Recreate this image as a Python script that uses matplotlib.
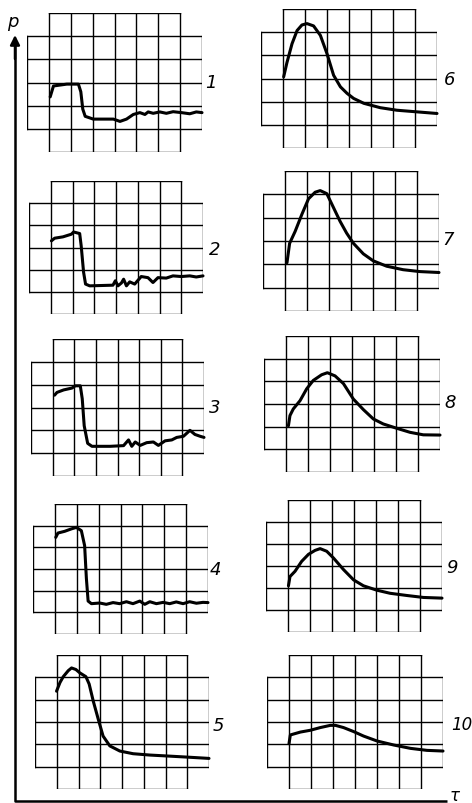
import numpy as np
import matplotlib
matplotlib.use("Agg")
import matplotlib.pyplot as plt

# traces in graticule units (x: 0..8 divisions, y: 0..6 divisions)
x1 = [1.06, 1.21, 1.82, 2.35, 2.46, 2.55, 2.66, 3.03, 3.95, 4.25, 4.55, 4.86, 5.16, 5.39, 5.54, 5.77, 6.07, 6.37, 6.68, 7.06, 7.44, 7.74, 8.0]
y1 = [2.38, 2.85, 2.93, 2.93, 2.6, 1.85, 1.54, 1.42, 1.42, 1.32, 1.42, 1.62, 1.7, 1.62, 1.73, 1.67, 1.73, 1.67, 1.74, 1.7, 1.65, 1.73, 1.7]

x2 = [1.03, 1.18, 1.56, 1.95, 2.05, 2.33, 2.4, 2.51, 2.6, 2.79, 3.86, 3.97, 4.09, 4.25, 4.35, 4.48, 4.63, 4.86, 5.16, 5.47, 5.7, 5.93, 6.31, 6.62, 7.0, 7.39, 7.69, 8.0]
y2 = [3.3, 3.42, 3.48, 3.6, 3.7, 3.63, 3.07, 1.88, 1.35, 1.27, 1.3, 1.5, 1.27, 1.4, 1.57, 1.27, 1.45, 1.35, 1.69, 1.64, 1.42, 1.64, 1.62, 1.72, 1.69, 1.72, 1.67, 1.72]

x3 = [1.09, 1.2, 1.51, 1.89, 2.05, 2.28, 2.37, 2.46, 2.62, 2.82, 3.66, 4.28, 4.51, 4.66, 4.82, 5.05, 5.35, 5.66, 5.89, 6.2, 6.51, 6.74, 7.05, 7.35, 7.58, 7.82, 8.0]
y3 = [3.54, 3.66, 3.77, 3.85, 3.95, 3.95, 3.38, 2.2, 1.43, 1.3, 1.3, 1.33, 1.58, 1.3, 1.49, 1.34, 1.46, 1.49, 1.34, 1.54, 1.58, 1.69, 1.74, 2.0, 1.82, 1.74, 1.69]

x4 = [1.04, 1.14, 1.45, 1.75, 1.98, 2.21, 2.36, 2.44, 2.52, 2.67, 3.05, 3.35, 3.66, 3.96, 4.27, 4.57, 4.88, 5.11, 5.34, 5.64, 5.95, 6.25, 6.55, 6.86, 7.16, 7.47, 7.77, 8.0]
y4 = [4.46, 4.66, 4.74, 4.85, 4.92, 4.77, 4.08, 2.57, 1.52, 1.4, 1.43, 1.37, 1.45, 1.4, 1.49, 1.4, 1.52, 1.37, 1.49, 1.4, 1.46, 1.4, 1.48, 1.4, 1.49, 1.42, 1.46, 1.45]

x5 = [0.99, 1.15, 1.3, 1.53, 1.68, 1.88, 2.06, 2.34, 2.49, 2.68, 2.91, 3.13, 3.44, 3.9, 4.51, 5.28, 6.04, 6.96, 8.0]
y5 = [4.38, 4.77, 5.03, 5.3, 5.42, 5.35, 5.2, 5.03, 4.7, 3.93, 3.12, 2.37, 1.93, 1.7, 1.58, 1.52, 1.48, 1.43, 1.37]

x6 = [1.03, 1.18, 1.41, 1.64, 1.86, 2.09, 2.39, 2.7, 3.0, 3.3, 3.61, 3.91, 4.21, 4.67, 5.42, 6.18, 7.09, 8.0]
y6 = [3.07, 3.69, 4.5, 5.07, 5.31, 5.37, 5.27, 4.86, 4.07, 3.14, 2.64, 2.36, 2.14, 1.93, 1.74, 1.63, 1.56, 1.49]

x7 = [1.09, 1.21, 1.46, 1.77, 2.07, 2.37, 2.6, 2.9, 3.2, 3.5, 3.8, 4.11, 4.56, 5.01, 5.62, 6.37, 7.12, 8.0]
y7 = [2.07, 2.9, 3.41, 4.15, 4.81, 5.09, 5.16, 5.03, 4.44, 3.85, 3.34, 2.9, 2.45, 2.15, 1.92, 1.77, 1.69, 1.65]

x8 = [1.11, 1.18, 1.33, 1.64, 1.94, 2.24, 2.62, 2.88, 3.23, 3.61, 4.06, 4.52, 4.97, 5.42, 6.03, 6.64, 7.24, 8.0]
y8 = [2.04, 2.49, 2.78, 3.15, 3.67, 4.04, 4.29, 4.38, 4.24, 3.9, 3.22, 2.75, 2.34, 2.12, 1.93, 1.75, 1.64, 1.63]

x9 = [1.02, 1.09, 1.32, 1.62, 1.93, 2.23, 2.46, 2.76, 3.07, 3.52, 3.98, 4.43, 5.04, 5.64, 6.4, 7.16, 8.0]
y9 = [2.1, 2.52, 2.76, 3.21, 3.53, 3.71, 3.79, 3.67, 3.36, 2.84, 2.37, 2.1, 1.9, 1.76, 1.66, 1.57, 1.54]

x10 = [1.0, 1.06, 1.52, 1.97, 2.42, 2.88, 3.11, 3.48, 3.94, 4.39, 5.0, 5.76, 6.52, 7.27, 8.0]
y10 = [2.03, 2.42, 2.55, 2.63, 2.75, 2.85, 2.85, 2.75, 2.57, 2.37, 2.15, 1.97, 1.82, 1.73, 1.7]

labels = ["1", "2", "3", "4", "5", "6", "7", "8", "9", "10"]
traces = [(x1, y1), (x2, y2), (x3, y3), (x4, y4), (x5, y5),
          (x6, y6), (x7, y7), (x8, y8), (x9, y9), (x10, y10)]

W, H = 472, 804
# panel boxes in pixels: left, right, top, bottom
boxes = [(27, 202, 14, 153), (29, 203, 182, 315), (31, 204, 340, 477),
         (33, 208, 505, 635), (35, 209, 656, 790),
         (261, 437, 10, 149), (263, 439, 172, 312), (264, 440, 337, 473),
         (266, 442, 501, 633), (267, 443, 656, 790)]
label_pos = [(211, 83), (215, 250), (215, 408), (215, 570), (218, 726),
             (450, 80), (448, 240), (450, 403), (452, 568), (462, 725)]

fig = plt.figure(figsize=(W / 100, H / 100), dpi=100)
fig.patch.set_facecolor("white")

# background axes in pixel units for the p-tau frame and labels
bg = fig.add_axes([0, 0, 1, 1])
bg.set_xlim(0, W)
bg.set_ylim(H, 0)
bg.axis("off")
bg.plot([15, 15, 447], [45, 802, 802], color="black", lw=1.8, solid_capstyle="butt")
bg.annotate("", xy=(15, 36), xytext=(15, 60),
            arrowprops=dict(arrowstyle="-|>", color="black", lw=1.8,
                            mutation_scale=14, shrinkA=0, shrinkB=0))
bg.text(13, 22, "p", fontsize=13, style="italic", ha="center", va="center")
bg.text(455, 796, "τ", fontsize=12, style="italic", ha="center", va="center")

for (l, r, t, b), (xs, ys), lab, (lx, ly) in zip(boxes, traces, labels, label_pos):
    ax = fig.add_axes([l / W, 1 - b / H, (r - l) / W, (b - t) / H])
    ax.set_xlim(0, 8)
    ax.set_ylim(0, 6)
    ax.axis("off")
    for k in range(7):
        x0, x1_ = (1, 7) if k in (0, 6) else (0, 8)
        ax.plot([x0, x1_], [k, k], color="black", lw=1.0, solid_capstyle="projecting")
    for k in range(9):
        y0, y1_ = (1, 5) if k in (0, 8) else (0, 6)
        ax.plot([k, k], [y0, y1_], color="black", lw=1.0, solid_capstyle="projecting")
    ax.plot(xs, ys, color="black", lw=2.2, solid_joinstyle="round",
            solid_capstyle="round", clip_on=False)
    fs = 12 if len(lab) > 1 else 13
    bg.text(lx, ly, lab, fontsize=fs, style="italic", ha="center", va="center")

fig.savefig("out.png", dpi=100, facecolor="white")
